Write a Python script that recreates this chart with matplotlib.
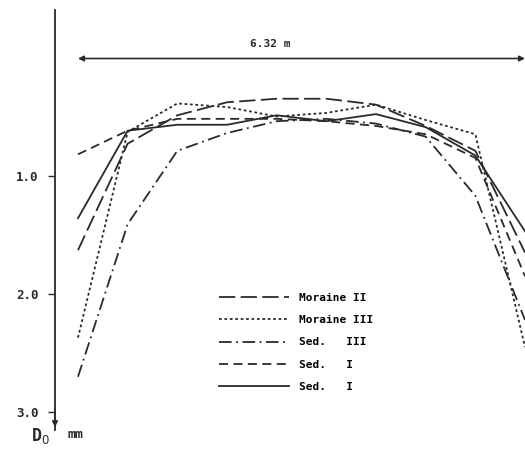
import numpy as np
import matplotlib
matplotlib.use('Agg')
from matplotlib import pyplot as plt

# stations across the 6.32 m section
x_m = np.linspace(0, 6.32, 10)

moraine_2 = [1.63, 0.73, 0.49, 0.38, 0.35, 0.35, 0.40, 0.58, 0.79, 1.65]
moraine_3 = [2.37, 0.63, 0.39, 0.42, 0.50, 0.47, 0.40, 0.53, 0.65, 2.45]
sed_3     = [2.70, 1.41, 0.79, 0.64, 0.54, 0.52, 0.56, 0.67, 1.17, 2.22]
sed_1a    = [0.82, 0.62, 0.52, 0.52, 0.52, 0.54, 0.58, 0.65, 0.85, 1.85]
sed_1b    = [1.36, 0.62, 0.57, 0.57, 0.49, 0.54, 0.48, 0.59, 0.83, 1.47]

labels = ['Moraine II', 'Moraine III', 'Sed.   III', 'Sed.   I', 'Sed.   I']
styles = [(0, (9, 3)), (0, (1.5, 1.5)), (0, (7, 2.5, 1, 2.5)), (0, (5, 3)), '-']
series = [moraine_2, moraine_3, sed_3, sed_1a, sed_1b]

ytick_vals = [1.0, 2.0, 3.0]
ytick_labels = ['1.0', '2.0', '3.0']

font = {'family': 'DejaVu Sans Mono', 'weight': 'bold'}
col = '#2a2a2a'

fig = plt.figure(figsize=(5.25, 4.53), dpi=100)
ax = fig.add_axes([55/525, 1-430/453, 1-55/525, (430-10)/453])

for ys, ls, lab in zip(series, styles, labels):
    ax.plot(x_m, ys, linestyle=ls, color=col, lw=1.3, label=lab)

ax.set_xlim(-0.325, 6.32)
ax.set_ylim(3.15, -0.40)

for s in ['top', 'right', 'bottom']:
    ax.spines[s].set_visible(False)
ax.spines['left'].set_color(col)
ax.spines['left'].set_linewidth(1.3)
ax.set_xticks([])
ax.set_yticks(ytick_vals)
ax.set_yticklabels(ytick_labels, fontdict={'size': 9, **font})
ax.tick_params(axis='y', direction='out', length=5, width=1, colors=col, pad=7)

# arrow at the bottom of the axis
ax.annotate('', xy=(-0.325, 3.15), xytext=(-0.325, 2.95),
            arrowprops=dict(arrowstyle='-|>', color=col, lw=1.2, mutation_scale=8))

# width arrow
ax.annotate('', xy=(0, 0.01), xytext=(6.32, 0.01),
            arrowprops=dict(arrowstyle='<|-|>', color=col, lw=1.2, mutation_scale=8,
                            shrinkA=0, shrinkB=0))
ax.text(2.72, -0.11, '6.32 m', ha='center', va='center', fontsize=8, color=col, **font)

ax.legend(loc='upper left', bbox_to_anchor=(0.328, 0.35), frameon=False,
          handlelength=6.3, handletextpad=0.9, labelspacing=1.1,
          prop={'size': 8, **font})

fig.text(31/525, 1-436/453, r'D$_0$', fontsize=12, ha='left', va='center', color=col, **font)
fig.text(68/525, 1-435/453, 'mm', fontsize=9.5, ha='left', va='center', color=col, **font)

fig.savefig('out.png', dpi=100)
